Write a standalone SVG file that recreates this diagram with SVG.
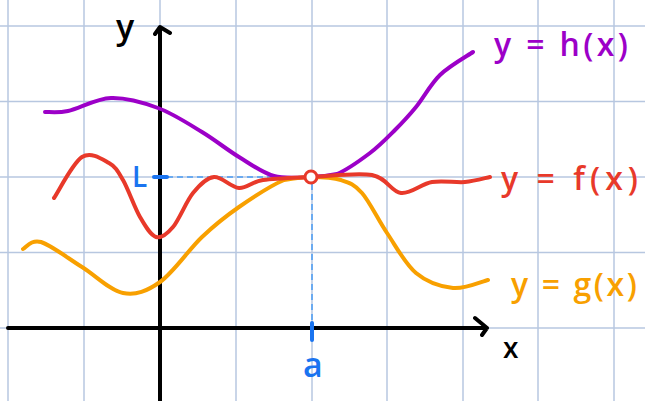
<svg xmlns="http://www.w3.org/2000/svg" width="645" height="401" viewBox="0 0 645 401">
<style>
.grid line{stroke:#b7c7e0;stroke-width:1.5}
.axis{stroke:#000;stroke-width:4;fill:none;stroke-linecap:round;stroke-linejoin:round}
.curve{fill:none;stroke-width:4;stroke-linecap:round;stroke-linejoin:round}
.dash{stroke:#6aaaf0;stroke-width:2;stroke-dasharray:6 4;fill:none}
.tick{stroke:#1a74f0;stroke-width:4;stroke-linecap:round}
.lbl{font-family:"Open Sans","Liberation Sans",sans-serif;font-weight:600}
</style>
<rect width="645" height="401" fill="#fff"/>
<g id="grid" class="grid">
<line x1="8" y1="0" x2="8" y2="401"/>
<line x1="84" y1="0" x2="84" y2="401"/>
<line x1="160" y1="0" x2="160" y2="401"/>
<line x1="236" y1="0" x2="236" y2="401"/>
<line x1="312" y1="0" x2="312" y2="401"/>
<line x1="387" y1="0" x2="387" y2="401"/>
<line x1="463" y1="0" x2="463" y2="401"/>
<line x1="538" y1="0" x2="538" y2="401"/>
<line x1="614" y1="0" x2="614" y2="401"/>
<line x1="0" y1="26" x2="645" y2="26"/>
<line x1="0" y1="101.5" x2="645" y2="101.5"/>
<line x1="0" y1="177" x2="645" y2="177"/>
<line x1="0" y1="252.5" x2="645" y2="252.5"/>
<line x1="0" y1="328" x2="645" y2="328"/>
</g>
<g id="connectors">
<path class="dash" d="M167 177 H305"/>
<path class="dash" d="M312 184 V322"/>
</g>
<g id="axes">
<path class="axis" d="M160 401 V28 M155 34 L160 27 L170 33"/>
<path class="axis" d="M8 328 H487 M475 318 L487 328 L482 335"/>
<text class="lbl" x="116" y="39" font-size="34" fill="#000">y</text>
<text class="lbl" x="503" y="358" font-size="28" fill="#000">x</text>
</g>
<g id="h">
<path class="curve" stroke="#9c00c8" d="M45 112 C48.8 111.8 57 113.3 68 111 C79 108.7 96 98.5 111 98 C126 97.5 142.8 102.3 158 108 C173.2 113.7 188.5 123.8 202 132 C215.5 140.2 227 149.7 239 157 C251 164.3 262 172.7 274 176 C286 179.3 300.5 177.3 311 177 C321.5 176.7 328 176 337 174 C346.8 170 360.3 160.3 370 153 C379.7 145.7 387.3 137.7 395 130 C402.7 122.3 408.5 116.2 416 107 C423.5 97.8 430.5 84.2 440 75 C449.5 65.8 467.5 55.8 473 52"/>
<text class="lbl" x="494" y="56" font-size="32" fill="#9c00c8" textLength="134" lengthAdjust="spacing">y = h(x)</text>
</g>
<g id="g">
<path class="curve" stroke="#f8a000" d="M23 249 C26 247.8 31.2 239 41 242 C50.8 245 68.3 258.5 82 267 C95.7 275.5 110 290.5 123 293 C136 295.5 146.8 291.3 160 282 C173.2 272.7 188.8 249.5 202 237 C215.2 224.5 225.3 216.5 239 207 C252.7 197.5 272 185 284 180 C295 178.5 301.5 177 311 177 C320.5 177 332.5 177.3 341 180 C349.5 182.7 354.3 184.2 362 193 C369.7 201.8 378 219.7 387 233 C396 246.3 405 263.8 416 273 C427 282.2 441 286.8 453 288 C465 289.2 482.2 281.3 488 280"/>
<text class="lbl" x="511" y="296" font-size="32" fill="#f8a000" textLength="126" lengthAdjust="spacing">y = g(x)</text>
</g>
<g id="f">
<path class="curve" stroke="#e8392a" d="M54 198 C58.7 191.2 72.8 162.8 82 157 C91.2 151.2 102.2 159.2 109 163 C115.8 166.8 117.8 171 123 180 C128.2 189 134.5 207.5 140 217 C145.5 226.5 150.5 235.3 156 237 C161.5 238.7 166.8 234.3 173 227 C179.2 219.7 186.2 201.3 193 193 C199.8 184.7 206.3 177.8 214 177 C221.7 176.2 230.8 187.5 239 188 C247.2 188.5 251 181.8 263 180 C275 178.2 292.8 177.8 311 177 C329.2 176.2 357 172.3 372 175 C387 177.7 391 191.8 401 193 C411 194.2 421.3 183.8 432 182 C442.7 180.2 455.3 182.8 465 182 C474.7 181.2 485.8 177.8 490 177"/>
<text class="lbl" x="501" y="190" font-size="32" fill="#e8392a" textLength="137" lengthAdjust="spacing">y = f(x)</text>
</g>
<g id="limit">
<line class="tick" x1="154" y1="177" x2="167" y2="177"/>
<line class="tick" x1="312" y1="323" x2="312" y2="340"/>
<text class="lbl" x="132" y="187" font-size="28" fill="#1a74f0">L</text>
<text class="lbl" x="303" y="377" font-size="34" fill="#1a74f0">a</text>
<circle cx="311" cy="177" r="6" fill="#fff" stroke="#e8392a" stroke-width="3"/>
</g>
</svg>
